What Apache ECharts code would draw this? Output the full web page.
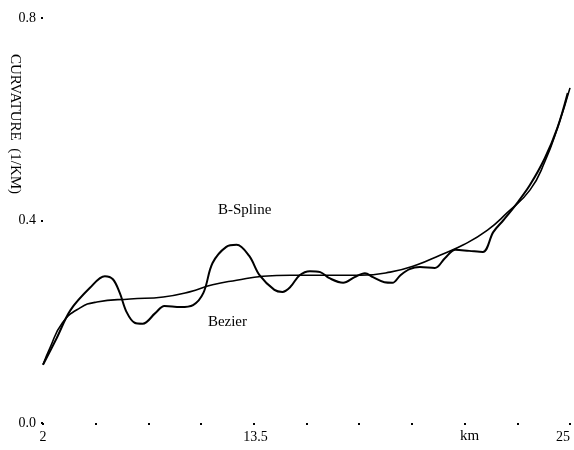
<!DOCTYPE html>
<html>
<head>
<meta charset="utf-8">
<script src="https://cdn.jsdelivr.net/npm/echarts@6/dist/echarts.min.js"></script>
<style>
  html, body { margin: 0; padding: 0; background: #fff; }
  #chart { width: 574px; height: 450px; }
</style>
</head>
<body>
<div id="chart"></div>
<script>
// distance along the road (km) and curvature values
const splineKm = [2.0, 2.6, 3.2, 4.05, 4.7, 5.05, 5.35, 5.65, 6.0, 6.35, 6.9, 7.3, 8.0, 8.55, 9.0, 9.4, 10.0, 10.45, 11.0, 11.45, 12.1, 12.45, 12.8, 13.2, 13.65, 14.1, 14.5, 15.1, 15.6, 16.05, 16.4, 16.9, 17.25, 17.6, 18.0, 18.45, 19.1, 19.55, 20.0, 20.6, 21.2, 21.65, 22.1, 22.7, 23.25, 23.9, 24.45, 24.9];
const splineVal = [0.115, 0.168, 0.223, 0.267, 0.290, 0.284, 0.257, 0.219, 0.198, 0.196, 0.217, 0.231, 0.229, 0.233, 0.257, 0.316, 0.348, 0.352, 0.330, 0.292, 0.263, 0.259, 0.269, 0.292, 0.300, 0.298, 0.286, 0.277, 0.288, 0.296, 0.288, 0.278, 0.277, 0.292, 0.304, 0.308, 0.306, 0.326, 0.342, 0.340, 0.338, 0.377, 0.401, 0.435, 0.470, 0.523, 0.583, 0.652];

const bezierKm = [2.0, 2.3, 2.85, 3.6, 4.35, 5.8, 7.25, 8.4, 9.4, 10.45, 11.6, 12.8, 14.5, 15.85, 17.15, 18.3, 19.35, 20.35, 21.4, 22.25, 23.25, 23.9, 24.5, 25.0];
const bezierVal = [0.115, 0.148, 0.198, 0.227, 0.239, 0.245, 0.249, 0.259, 0.273, 0.282, 0.290, 0.292, 0.292, 0.292, 0.298, 0.312, 0.332, 0.352, 0.381, 0.415, 0.460, 0.516, 0.589, 0.662];

const xTickLabels = ['2', '13.5', '25'];
const yTickLabels = ['0.0', '0.4', '0.8'];

const splineTag = { text: 'B-Spline', km: 10.8, val: 0.421 };
const bezierTag = { text: 'Bezier', km: 10.05, val: 0.199 };

const serif = '"Liberation Serif", "DejaVu Serif", serif';

const chart = echarts.init(document.getElementById('chart'));

const pair = (xs, ys) => xs.map((x, i) => [x, ys[i]]);

const tag = (t) => ({
  symbol: 'circle',
  symbolSize: 1,
  itemStyle: { color: 'rgba(0,0,0,0)' },
  label: {
    show: true,
    position: 'inside',
    color: '#000',
    fontFamily: serif,
    fontSize: 15,
    formatter: t.text
  },
  data: [{ coord: [t.km, t.val] }]
});

const option = {
  animation: false,
  backgroundColor: '#fff',
  grid: { left: 43, right: 4, top: 18, bottom: 27 },
  xAxis: {
    type: 'value',
    min: 2,
    max: 25,
    interval: 2.3,
    name: 'km',
    nameLocation: 'end',
    nameGap: -110,
    nameTextStyle: {
      color: '#000',
      fontFamily: serif,
      fontSize: 15,
      align: 'left',
      verticalAlign: 'top',
      padding: [6, 0, 0, 0]
    },
    axisLine: { show: false },
    axisTick: { show: true, length: 2, lineStyle: { color: '#000', width: 2 } },
    splitLine: { show: false },
    axisLabel: {
      color: '#000',
      fontFamily: serif,
      fontSize: 14,
      margin: 7,
      showMinLabel: true,
      showMaxLabel: true,
      alignMaxLabel: 'right',
      formatter: (v) => {
        const s = xTickLabels.find((t) => Math.abs(Number(t) - v) < 1e-6);
        if (!s) return '';
        return s === '13.5' ? '{mid|' + s + '}' : s;
      },
      rich: {
        mid: { fontFamily: serif, fontSize: 14, color: '#000', padding: [0, 102, 0, 0] }
      }
    }
  },
  yAxis: {
    type: 'value',
    min: 0,
    max: 0.8,
    interval: 0.4,
    axisLine: { show: false },
    axisTick: { show: true, length: 2, lineStyle: { color: '#000', width: 2 } },
    splitLine: { show: false },
    axisLabel: {
      color: '#000',
      fontFamily: serif,
      fontSize: 14,
      margin: 7,
      formatter: (v) => yTickLabels.find((t) => Math.abs(Number(t) - v) < 1e-6) || ''
    }
  },
  graphic: [
    {
      type: 'text',
      x: 15,
      y: 124,
      rotation: -Math.PI / 2,
      style: {
        text: 'CURVATURE  (1/KM)',
        fontFamily: serif,
        fontSize: 15,
        fill: '#000',
        align: 'center',
        verticalAlign: 'middle'
      }
    }
  ],
  series: [
    {
      name: 'B-Spline',
      type: 'line',
      data: pair(splineKm, splineVal),
      smooth: 0.35,
      showSymbol: false,
      lineStyle: { color: '#000', width: 2 },
      markPoint: tag(splineTag)
    },
    {
      name: 'Bezier',
      type: 'line',
      data: pair(bezierKm, bezierVal),
      smooth: 0.5,
      showSymbol: false,
      lineStyle: { color: '#000', width: 1.6 },
      markPoint: tag(bezierTag)
    }
  ]
};

chart.setOption(option);
</script>
</body>
</html>
